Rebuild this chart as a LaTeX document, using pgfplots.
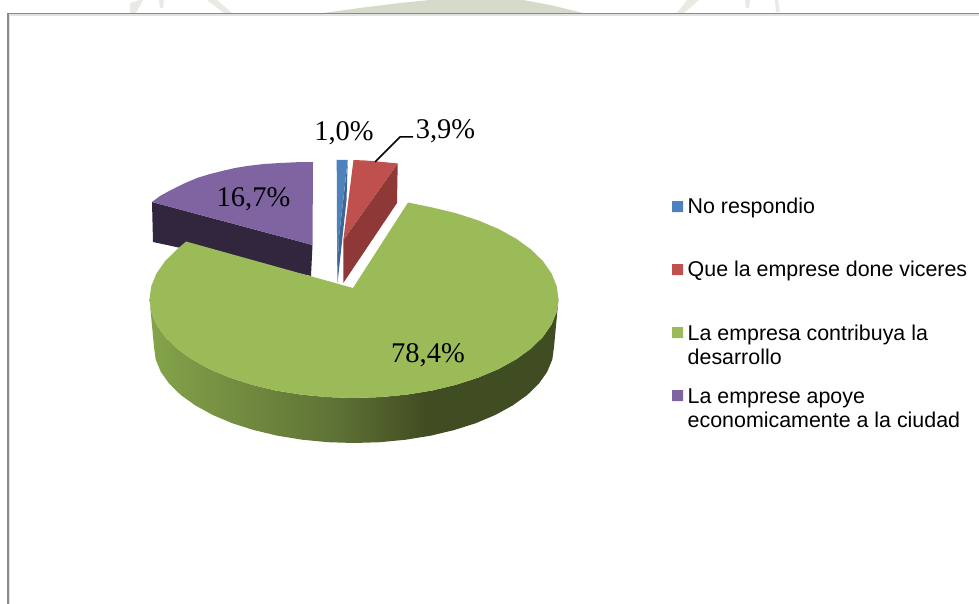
\documentclass[border=0pt]{standalone}
\usepackage{fontspec}
\setmainfont{Liberation Sans}
\newfontfamily\lblfont{Liberation Serif}
\usepackage{pgfplots}
\pgfplotsset{compat=1.18}
\definecolor{wgreen}{HTML}{D5DBCB}
\definecolor{wgrey}{HTML}{E8EAE4}
\definecolor{frameC}{HTML}{8A8A8A}
\definecolor{frameL}{HTML}{E2E2E2}
\definecolor{cblue}{HTML}{4F81BD}
\definecolor{cblueD}{HTML}{3B6696}
\definecolor{cred}{HTML}{C0504D}
\definecolor{credD}{HTML}{8E3937}
\definecolor{cgreen}{HTML}{9BBB59}
\definecolor{cpurple}{HTML}{8064A2}
\definecolor{cpurpleD}{HTML}{32263F}
\definecolor{sideA}{HTML}{84A44A}
\definecolor{sideB}{HTML}{5E7135}
\definecolor{sideC}{HTML}{404C21}
\pgfdeclarehorizontalshading{greenside}{100bp}{
 color(0bp)=(sideA);
 color(25bp)=(sideA);
 color(48bp)=(sideB);
 color(59bp)=(sideC);
 color(75bp)=(sideC);
 color(100bp)=(sideC)}
\begin{document}
\begin{tikzpicture}
\begin{axis}[scale only axis,width=979pt,height=604pt,xmin=0,xmax=979,ymin=0,ymax=604,y dir=reverse,hide axis]
% background
\addplot[fill=white,draw=none] coordinates {(0,0)(979,0)(979,604)(0,604)(0,0)};
% watermark above the frame
\addplot[fill=wgreen,draw=none] coordinates {(323,13)(360,8)(400,3)(430,0)(523,0)(550,5)(583,13)(323,13)};
\addplot[fill=wgrey,draw=none] coordinates {(207,0)(217,0)(232,13)(224,13)(207,0)};
\addplot[fill=wgrey,draw=none] coordinates {(130,3)(140,0)(143,0)(136,13)(130,13)(130,3)};
\addplot[fill=wgrey,draw=none] coordinates {(159,0)(164,0)(163,8)(160,8)(159,0)};
\addplot[fill=wgrey,draw=none] coordinates {(687,0)(699,0)(684,13)(677,13)(687,0)};
\addplot[fill=wgrey,draw=none] coordinates {(745,0)(750,0)(749,8)(746,8)(745,0)};
\addplot[fill=wgrey,draw=none] coordinates {(775,0)(778,0)(780,12)(776,12)(775,0)};
% frame
\addplot[draw=frameL,line width=1.5pt] coordinates {(9.6,604)(9.6,15.2)(979,15.2)};
\addplot[draw=frameC,line width=1.6pt] coordinates {(8,604)(8,13.5)(979,13.5)};
% purple slice: La empresa apoye economicamente (16,7%)
\addplot[fill=cpurpleD,draw=none] coordinates {(152,202)(312.5,245)(311,276)(153,242)(152,202)};
\addplot[fill=cpurple,draw=none] coordinates {(152,202)(160,196)(170,190.5)(183,184)(197,178)(210,174)(222,171)(235,168)(247,166)(264,164)(280,163)(297,162.2)(313,162)(312.5,245)(152,202)};
% blue slice: No respondio (1,0%)
\addplot[fill=cblue,draw=none] coordinates {(336.7,160)(347.7,160)(338.5,241)(337.2,283)(336.7,160)};
\addplot[fill=cblueD,draw=none] coordinates {(347.7,162)(346.5,200)(337.5,283)(338.5,241)(347.7,162)};
% red slice: Que la emprese done viceres (3,9%)
\addplot[fill=credD,draw=none] coordinates {(343.3,240)(397.7,163.5)(397,203)(343.3,283)(343.3,240)};
\addplot[fill=cred,draw=none] coordinates {(353.5,160)(365,160.5)(375,161.3)(386,162.3)(397.7,163.5)(343.3,240)(353.5,160)};
% green slice, side (78,4%)
\addplot[shading=greenside,draw=none] coordinates {
(149.5,299)(151.3,311.9)(156.5,324.6)(165.1,336.9)(176.9,348.5)(191.8,359.3)(209.4,369)(229.5,377.5)(251.7,384.7)(275.7,390.5)(301,394.6)(327.3,397.1)(354,398)(380.7,397.1)(407,394.6)(432.3,390.5)(456.3,384.7)(478.5,377.5)(498.6,369)(516.2,359.3)(531.1,348.5)(542.9,336.9)(551.5,324.6)(556.7,311.9)(558.5,299)
(554,347)(552.3,359.5)(547.2,371.8)(538.8,383.7)(527.2,395)(512.7,405.4)(495.4,414.9)(475.8,423.2)(454,430.1)(430.5,435.7)(405.8,439.7)(380.1,442.2)(354,443)(327.9,442.2)(302.2,439.7)(277.5,435.7)(254,430.1)(232.2,423.2)(212.6,414.9)(195.3,405.4)(180.8,395)(169.2,383.7)(160.8,371.8)(155.7,359.5)(154,347)(149.5,299)};
% green slice, top
\addplot[fill=cgreen,draw=none] coordinates {
(558.5,299)(556.7,311.9)(551.5,324.6)(542.9,336.9)(531.1,348.5)(516.2,359.3)(498.6,369)(478.5,377.5)(456.3,384.7)(432.3,390.5)(407,394.6)(380.7,397.1)(354,398)(327.3,397.1)(301,394.6)(275.7,390.5)(251.7,384.7)(229.5,377.5)(209.4,369)(191.8,359.3)(176.9,348.5)(165.1,336.9)(156.5,324.6)(151.3,311.9)(149.5,299)(151.3,286.1)(156.5,273.4)(165.1,261.1)(176.9,249.5)(186,241.5)(353,288)(408,202.5)(432.3,207.5)(456.3,213.3)(478.5,220.5)(498.6,229)(516.2,238.7)(531.1,249.5)(542.9,261.1)(551.5,273.4)(556.7,286.1)(558.5,299)};
% leader line
\addplot[draw=black,line width=1.5pt] coordinates {(375,162)(400,137)(413,137)};
% legend keys
\addplot[fill=cblue,draw=none] coordinates {(672,201)(683,201)(683,212)(672,212)(672,201)};
\addplot[fill=cred,draw=none] coordinates {(672,264)(683,264)(683,275)(672,275)(672,264)};
\addplot[fill=cgreen,draw=none] coordinates {(672,327)(683,327)(683,338)(672,338)(672,327)};
\addplot[fill=cpurple,draw=none] coordinates {(672,390)(683,390)(683,401)(672,401)(672,390)};
% data labels
\node[font=\lblfont\fontsize{28.5}{30}\selectfont,inner sep=0pt] at (axis cs:344,133) {1,0\%};
\node[font=\lblfont\fontsize{28.5}{30}\selectfont,inner sep=0pt] at (axis cs:445.5,131) {3,9\%};
\node[font=\lblfont\fontsize{28.5}{30}\selectfont,inner sep=0pt] at (axis cs:253.5,199) {16,7\%};
\node[font=\lblfont\fontsize{28.5}{30}\selectfont,inner sep=0pt] at (axis cs:428,355) {78,4\%};
% legend text
\node[font=\fontsize{21.4}{24}\selectfont,anchor=base west,inner sep=0pt] at (axis cs:687.5,213) {No respondio};
\node[font=\fontsize{21.4}{24}\selectfont,anchor=base west,inner sep=0pt] at (axis cs:687.5,276) {Que la emprese done viceres};
\node[font=\fontsize{21.4}{24}\selectfont,anchor=base west,inner sep=0pt] at (axis cs:687.5,340) {La empresa contribuya la};
\node[font=\fontsize{21.4}{24}\selectfont,anchor=base west,inner sep=0pt] at (axis cs:687.5,364) {desarrollo};
\node[font=\fontsize{21.4}{24}\selectfont,anchor=base west,inner sep=0pt] at (axis cs:687.5,403) {La emprese apoye};
\node[font=\fontsize{21.4}{24}\selectfont,anchor=base west,inner sep=0pt] at (axis cs:687.5,427) {economicamente a la ciudad};
\end{axis}
\end{tikzpicture}
\end{document}
